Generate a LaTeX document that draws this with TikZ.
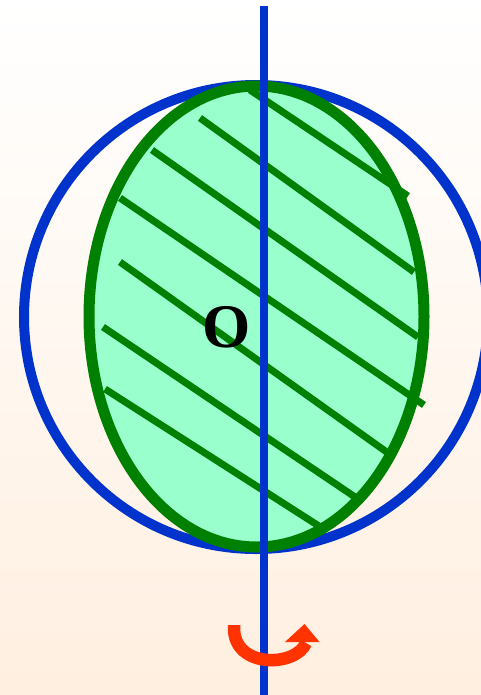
\documentclass[tikz,border=0pt]{standalone}
\usepackage{fontspec}
\setmainfont{Liberation Serif}
\definecolor{spinblue}{HTML}{0033CC}
\definecolor{leafgreen}{HTML}{008000}
\definecolor{leaffill}{HTML}{99FFCC}
\definecolor{turnred}{HTML}{FF3300}
\definecolor{paperpeach}{HTML}{FFEFE0}

\begin{document}
\begin{tikzpicture}[
  x=1pt,
  y=-1pt,
  rim/.style={
    draw=spinblue,
    line width=10pt
  },
  leaf/.style={
    draw=leafgreen,
    fill=leaffill,
    line width=11pt
  },
  hatch/.style={
    draw=leafgreen,
    line width=7pt
  },
  spindle/.style={
    draw=spinblue,
    line width=8pt
  },
  turn/.style={
    draw=turnred,
    line width=12.5pt
  },
  centrelabel/.style={
    font=\rmfamily\bfseries\fontsize{62}{62}\selectfont,
    text=black,
    inner sep=0pt
  }
]

\useasboundingbox (0,0) rectangle (481,695);
\clip (0,0) rectangle (481,695);
\shade[top color=white,bottom color=paperpeach] (0,0) rectangle (481,695);

\coordinate (centre) at (256,317);
\draw[rim] (centre) circle[radius=232];
\draw[leaf] (256.5,316.5) ellipse[x radius=167.5,y radius=230.5];

% hatching of the section
\foreach \xa/\ya/\xb/\yb in {250/90/408/196, 200/118/414/272, 152/150/418/337,
  120/198/424/405, 120/262/388/453, 103/327/355/497, 105/389/322/528}
  \draw[hatch] (\xa,\ya) -- (\xb,\yb);

\node[centrelabel] (olabel) at (227,327) {O};

\coordinate (top) at (264,6);
\coordinate (bottom) at (264,695);
\draw[spindle] (top) -- (bottom);

% sense of rotation
\coordinate (turnstart) at (234,625);
\coordinate (turnend) at (306,643);
\draw[turn] (turnstart) -- (234,628) .. controls (234,669) and (296,667) .. (turnend);
\fill[turnred] (285,642) -- (304.5,624) -- (319.5,642) -- cycle;

\end{tikzpicture}
\end{document}
